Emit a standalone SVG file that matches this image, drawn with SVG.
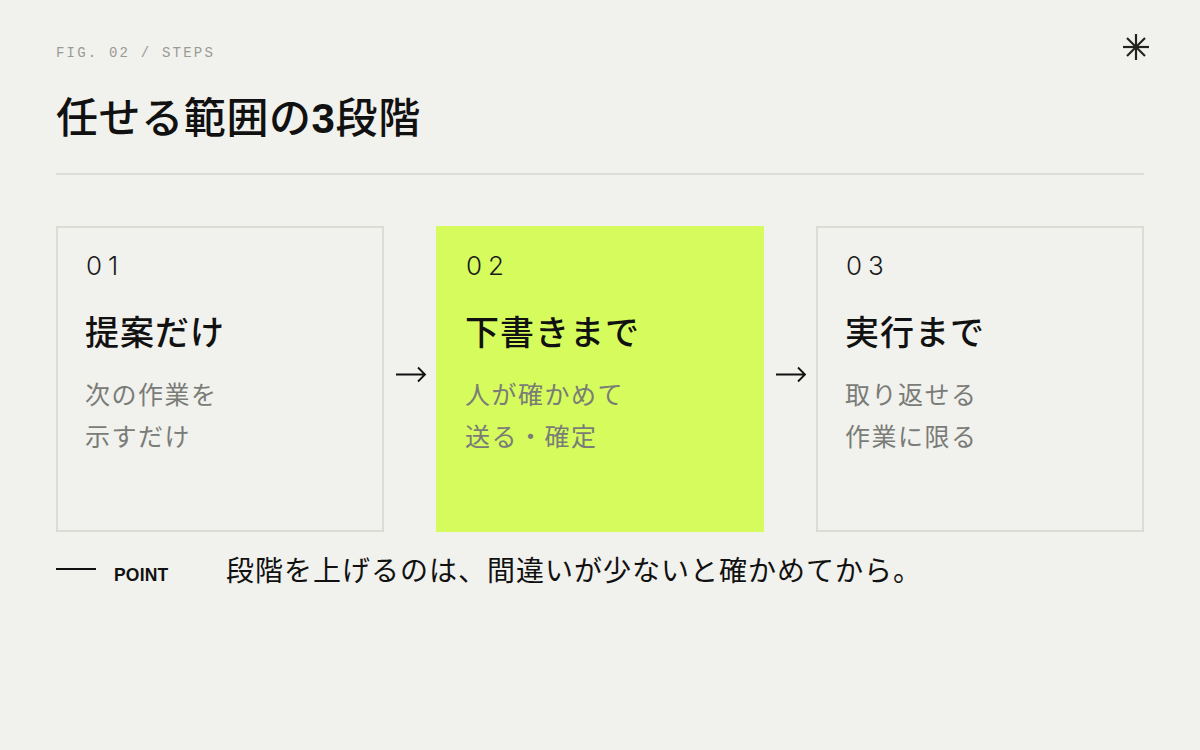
<svg xmlns="http://www.w3.org/2000/svg" width="1200" height="750" viewBox="0 0 1200 750">
<style>
.jp{font-family:"Noto Sans CJK JP","Noto Sans",sans-serif}
.mono{font-family:"Courier New","Nimbus Mono PS","FreeMono","Liberation Mono",monospace}
.num{font-family:Inter,"Noto Sans",sans-serif;font-weight:300;font-size:26px;fill:#1a1a1a;letter-spacing:6px}
.ttl{font-family:"Noto Sans CJK JP",sans-serif;font-weight:500;font-size:34px;fill:#111;letter-spacing:1px}
.dsc{font-family:"Noto Sans CJK JP",sans-serif;font-weight:400;font-size:25px;fill:#7a7c77;letter-spacing:1.5px}
.card{fill:none;stroke:#dcdcd7;stroke-width:2}
.arrow{fill:none;stroke:#111;stroke-width:1.8}
</style>
<rect width="1200" height="750" fill="#f1f1ed"/>
<g id="header">
<text class="mono" x="56" y="57" font-size="14" fill="#9a9a96" letter-spacing="2.2">FIG. 02 / STEPS</text>
<text class="jp" x="56" y="133" font-size="42" font-weight="500" fill="#111" letter-spacing="0.6">任せる範囲の<tspan font-family="Liberation Sans,Arial,sans-serif" font-weight="700">3</tspan>段階</text>
<line x1="56" y1="174" x2="1144" y2="174" stroke="#dcdcd8" stroke-width="2"/>
<g stroke="#222" stroke-width="2.2">
<line x1="1136" y1="34" x2="1136" y2="60"/>
<line x1="1123" y1="47" x2="1149" y2="47"/>
<line x1="1127" y1="38" x2="1145" y2="56"/>
<line x1="1145" y1="38" x2="1127" y2="56"/>
</g>
</g>
<g id="step1">
<rect class="card" x="57" y="227" width="326" height="304"/>
<text class="num" x="86" y="275">01</text>
<text class="ttl" x="85" y="345">提案だけ</text>
<text class="dsc" x="85" y="404">次の作業を</text>
<text class="dsc" x="85" y="446">示すだけ</text>
</g>
<g id="step2">
<rect x="436" y="226" width="328" height="306" fill="#d5fb5c"/>
<text class="num" x="466" y="275">02</text>
<text class="ttl" x="465" y="345">下書きまで</text>
<text class="dsc" x="465" y="404">人が確かめて</text>
<text class="dsc" x="465" y="446">送る・確定</text>
</g>
<g id="step3">
<rect class="card" x="817" y="227" width="326" height="304"/>
<text class="num" x="846" y="275">03</text>
<text class="ttl" x="845" y="345">実行まで</text>
<text class="dsc" x="845" y="404">取り返せる</text>
<text class="dsc" x="845" y="446">作業に限る</text>
</g>
<g id="connectors">
<path class="arrow" d="M396 374.5H425M418 367.5L425 374.5L418 381.5"/>
<path class="arrow" d="M776 374.5H805M798 367.5L805 374.5L798 381.5"/>
</g>
<g id="point">
<line x1="56" y1="569" x2="96" y2="569" stroke="#111" stroke-width="2"/>
<text x="114" y="581" font-family="Liberation Sans,Arial,sans-serif" font-weight="700" font-size="17.5" fill="#111" letter-spacing="0.2">POINT</text>
<text class="jp" x="226" y="581" font-size="28" fill="#111" letter-spacing="1">段階を上げるのは、間違いが少ないと確かめてから。</text>
</g>
</svg>
